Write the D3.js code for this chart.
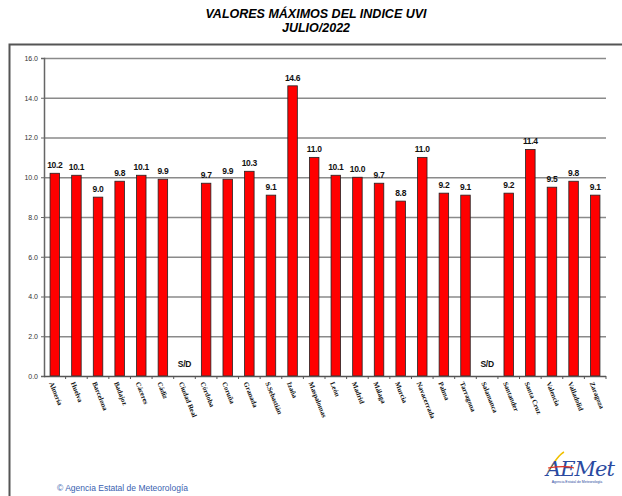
<!DOCTYPE html>
<html>
<head>
<meta charset="utf-8">
<script src="https://cdn.jsdelivr.net/npm/d3@7"></script>
<style>
  body { margin: 0; background: #fff; }
  svg { display: block; font-family: "Liberation Sans", Arial, sans-serif; }
</style>
</head>
<body>
<svg id="chart" width="622" height="496"></svg>
<script>
// estaciones y valores maximos (null = sin datos)
let estaciones = ["Almería", "Huelva", "Barcelona", "Badajoz", "Cáceres", "Cádiz", "Ciudad Real",
  "Córdoba", "Coruña", "Granada", "S.Sebastián", "Izaña", "Maspalomas", "León", "Madrid",
  "Málaga", "Murcia", "Navacerrada", "Palma", "Tarragona", "Salamanca", "Santander",
  "Santa Cruz", "Valencia", "Valladolid", "Zaragoza"];
let maximos = [10.2, 10.1, 9.0, 9.8, 10.1, 9.9, null, 9.7, 9.9, 10.3, 9.1, 14.6, 11.0, 10.1, 10.0,
  9.7, 8.8, 11.0, 9.2, 9.1, null, 9.2, 11.4, 9.5, 9.8, 9.1];
let yTicks = [0, 2, 4, 6, 8, 10, 12, 14, 16];

var svg = d3.select("#chart");

let margin = { top: 58, right: 16, bottom: 120, left: 44 };
let plotWidth = 622 - margin.left - margin.right;
let plotHeight = 496 - margin.top - margin.bottom;

// titulo
svg.append("text")
  .attr("x", 316).attr("y", 18)
  .attr("text-anchor", "middle")
  .style("font-size", "12.5px").style("font-weight", "bold").style("font-style", "italic")
  .text("VALORES MÁXIMOS DEL INDICE UVI");
svg.append("text")
  .attr("x", 316).attr("y", 32)
  .attr("text-anchor", "middle")
  .style("font-size", "12.5px").style("font-weight", "bold").style("font-style", "italic")
  .text("JULIO/2022");

// marco
svg.append("path")
  .attr("d", "M9.5,496 V44.5 H622")
  .attr("fill", "none").attr("stroke", "#555").attr("stroke-width", 2);

let x = d3.scaleBand()
  .domain(estaciones)
  .range([0, plotWidth])
  .paddingInner(0.56)
  .paddingOuter(0.28);

let y = d3.scaleLinear()
  .domain([0, 16])
  .range([plotHeight, 0]);

let plot = svg.append("g")
  .attr("transform", "translate(" + margin.left + "," + margin.top + ")");

// rejilla
plot.selectAll("line.grid")
  .data(yTicks.filter(d => d > 0))
  .enter().append("line")
  .attr("class", "grid")
  .attr("x1", 0).attr("x2", plotWidth)
  .attr("y1", d => y(d) + 0.5).attr("y2", d => y(d) + 0.5)
  .attr("stroke", "#8a8a8a").attr("stroke-width", 1.6);

// eje y
let yAxis = d3.axisLeft(y).tickValues(yTicks).tickFormat(d3.format(".1f")).tickSize(3).tickPadding(3);
let yGroup = plot.append("g").call(yAxis);
yGroup.select(".domain").attr("stroke", "#666").attr("stroke-width", 1.5);
yGroup.selectAll(".tick line").attr("stroke", "#666");
yGroup.selectAll("text").style("font-size", "7px").attr("fill", "#333");

// barras
plot.selectAll("rect.bar")
  .data(estaciones)
  .enter().append("rect")
  .attr("class", "bar")
  .filter((d, i) => maximos[i] != null)
  .attr("x", d => x(d))
  .attr("width", x.bandwidth())
  .attr("y", d => y(maximos[estaciones.indexOf(d)]))
  .attr("height", d => plotHeight - y(maximos[estaciones.indexOf(d)]))
  .attr("fill", "#ff0000")
  .attr("stroke", "#222").attr("stroke-width", 0.8);

// etiquetas de valor
plot.selectAll("text.valor")
  .data(estaciones)
  .enter().append("text")
  .attr("class", "valor")
  .attr("x", d => x(d) + x.bandwidth() / 2)
  .attr("y", (d, i) => maximos[i] == null ? y(0) - 9 : y(maximos[i]) - 5)
  .attr("text-anchor", "middle")
  .style("font-size", "8.5px").style("font-weight", "bold")
  .style("letter-spacing", "-0.3px")
  .attr("fill", "#111")
  .text((d, i) => maximos[i] == null ? "S/D" : maximos[i].toFixed(1));

// eje x
let step = x.step();
let xGroup = plot.append("g").attr("transform", "translate(0," + plotHeight + ")");
xGroup.append("line")
  .attr("x1", 0).attr("x2", plotWidth)
  .attr("y1", 0.5).attr("y2", 0.5)
  .attr("stroke", "#555").attr("stroke-width", 1.5);
xGroup.selectAll("line.tick")
  .data(estaciones)
  .enter().append("line")
  .attr("class", "tick")
  .attr("x1", d => x(d) + x.bandwidth() / 2 + step / 2)
  .attr("x2", d => x(d) + x.bandwidth() / 2 + step / 2)
  .attr("y1", 0).attr("y2", 3)
  .attr("stroke", "#555");
xGroup.selectAll("text")
  .data(estaciones)
  .enter().append("text")
  .attr("transform", d => "translate(" + (x(d) - 1) + ",7) rotate(68)")
  .attr("text-anchor", "start")
  .style("font-family", "'Liberation Serif', 'Times New Roman', serif")
  .style("font-size", "7px").style("font-weight", "bold")
  .attr("fill", "#111")
  .text(d => d);

// pie
svg.append("text")
  .attr("x", 57).attr("y", 491)
  .style("font-size", "8.5px").attr("fill", "#3a5fb0")
  .text("© Agencia Estatal de Meteorología");

let logo = svg.append("g").attr("transform", "translate(546,476)");
logo.append("path")
  .attr("d", "M2,-4 C8,-14 14,-22 18,-24")
  .attr("fill", "none").attr("stroke", "#f0c000").attr("stroke-width", 1.5);
logo.append("text")
  .attr("x", 0).attr("y", 0)
  .style("font-family", "'DejaVu Serif', serif").style("font-style", "italic")
  .style("font-size", "21px").attr("fill", "#2a4aa0")
  .style("letter-spacing", "-1px")
  .text("AEMet");
logo.append("path")
  .attr("d", "M2,-8 C14,-10 22,-10 28,-8")
  .attr("fill", "none").attr("stroke", "#e03020").attr("stroke-width", 1.2);
logo.append("text")
  .attr("x", 31).attr("y", 7)
  .attr("text-anchor", "middle")
  .style("font-size", "3.5px").attr("fill", "#2a4aa0")
  .text("Agencia Estatal de Meteorología");
</script>
</body>
</html>
